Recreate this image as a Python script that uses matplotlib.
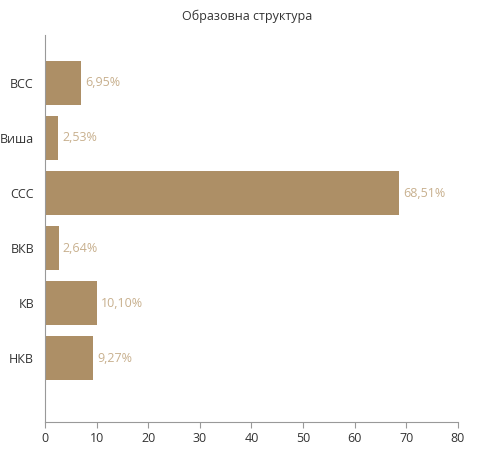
import matplotlib
matplotlib.use("Agg")
import matplotlib.pyplot as plt

categories = ["НКВ", "КВ", "ВКВ", "ССС", "Виша", "ВСС"]
values = [9.27, 10.10, 2.64, 68.51, 2.53, 6.95]
labels = ["9,27%", "10,10%", "2,64%", "68,51%", "2,53%", "6,95%"]

plt.rcParams['font.family'] = ['Open Sans', 'DejaVu Sans']
fig = plt.figure(figsize=(5.04, 4.67), dpi=100)
ax = fig.add_axes([0.0893, 0.0964, 0.8194, 0.8286])
ypos = list(range(len(categories)))
ax.barh(ypos, values, height=0.8, color="#AD8F66")
for y, v, l in zip(ypos, values, labels):
    ax.text(v + 0.8, y, l, va="center", ha="left", fontsize=9, color="#C8B08E")
ax.set_yticks(ypos)
ax.set_yticklabels(categories, fontsize=9, color="#333333")
ax.set_xlim(0, 80)
ax.set_xticks(range(0, 81, 10))
ax.tick_params(axis='x', labelsize=9, colors="#333333", length=4, color="#999999")
ax.tick_params(axis='y', length=0, pad=8)
ax.set_ylim(-1.16, 5.87)
for s in ["top", "right"]:
    ax.spines[s].set_visible(False)
ax.spines["left"].set_color("#999999")
ax.spines["bottom"].set_color("#999999")
fig.text(0.49, 0.965, "Образовна структура", ha="center", va="center", fontsize=9, color="#333333")
fig.savefig("out.png", dpi=100)
